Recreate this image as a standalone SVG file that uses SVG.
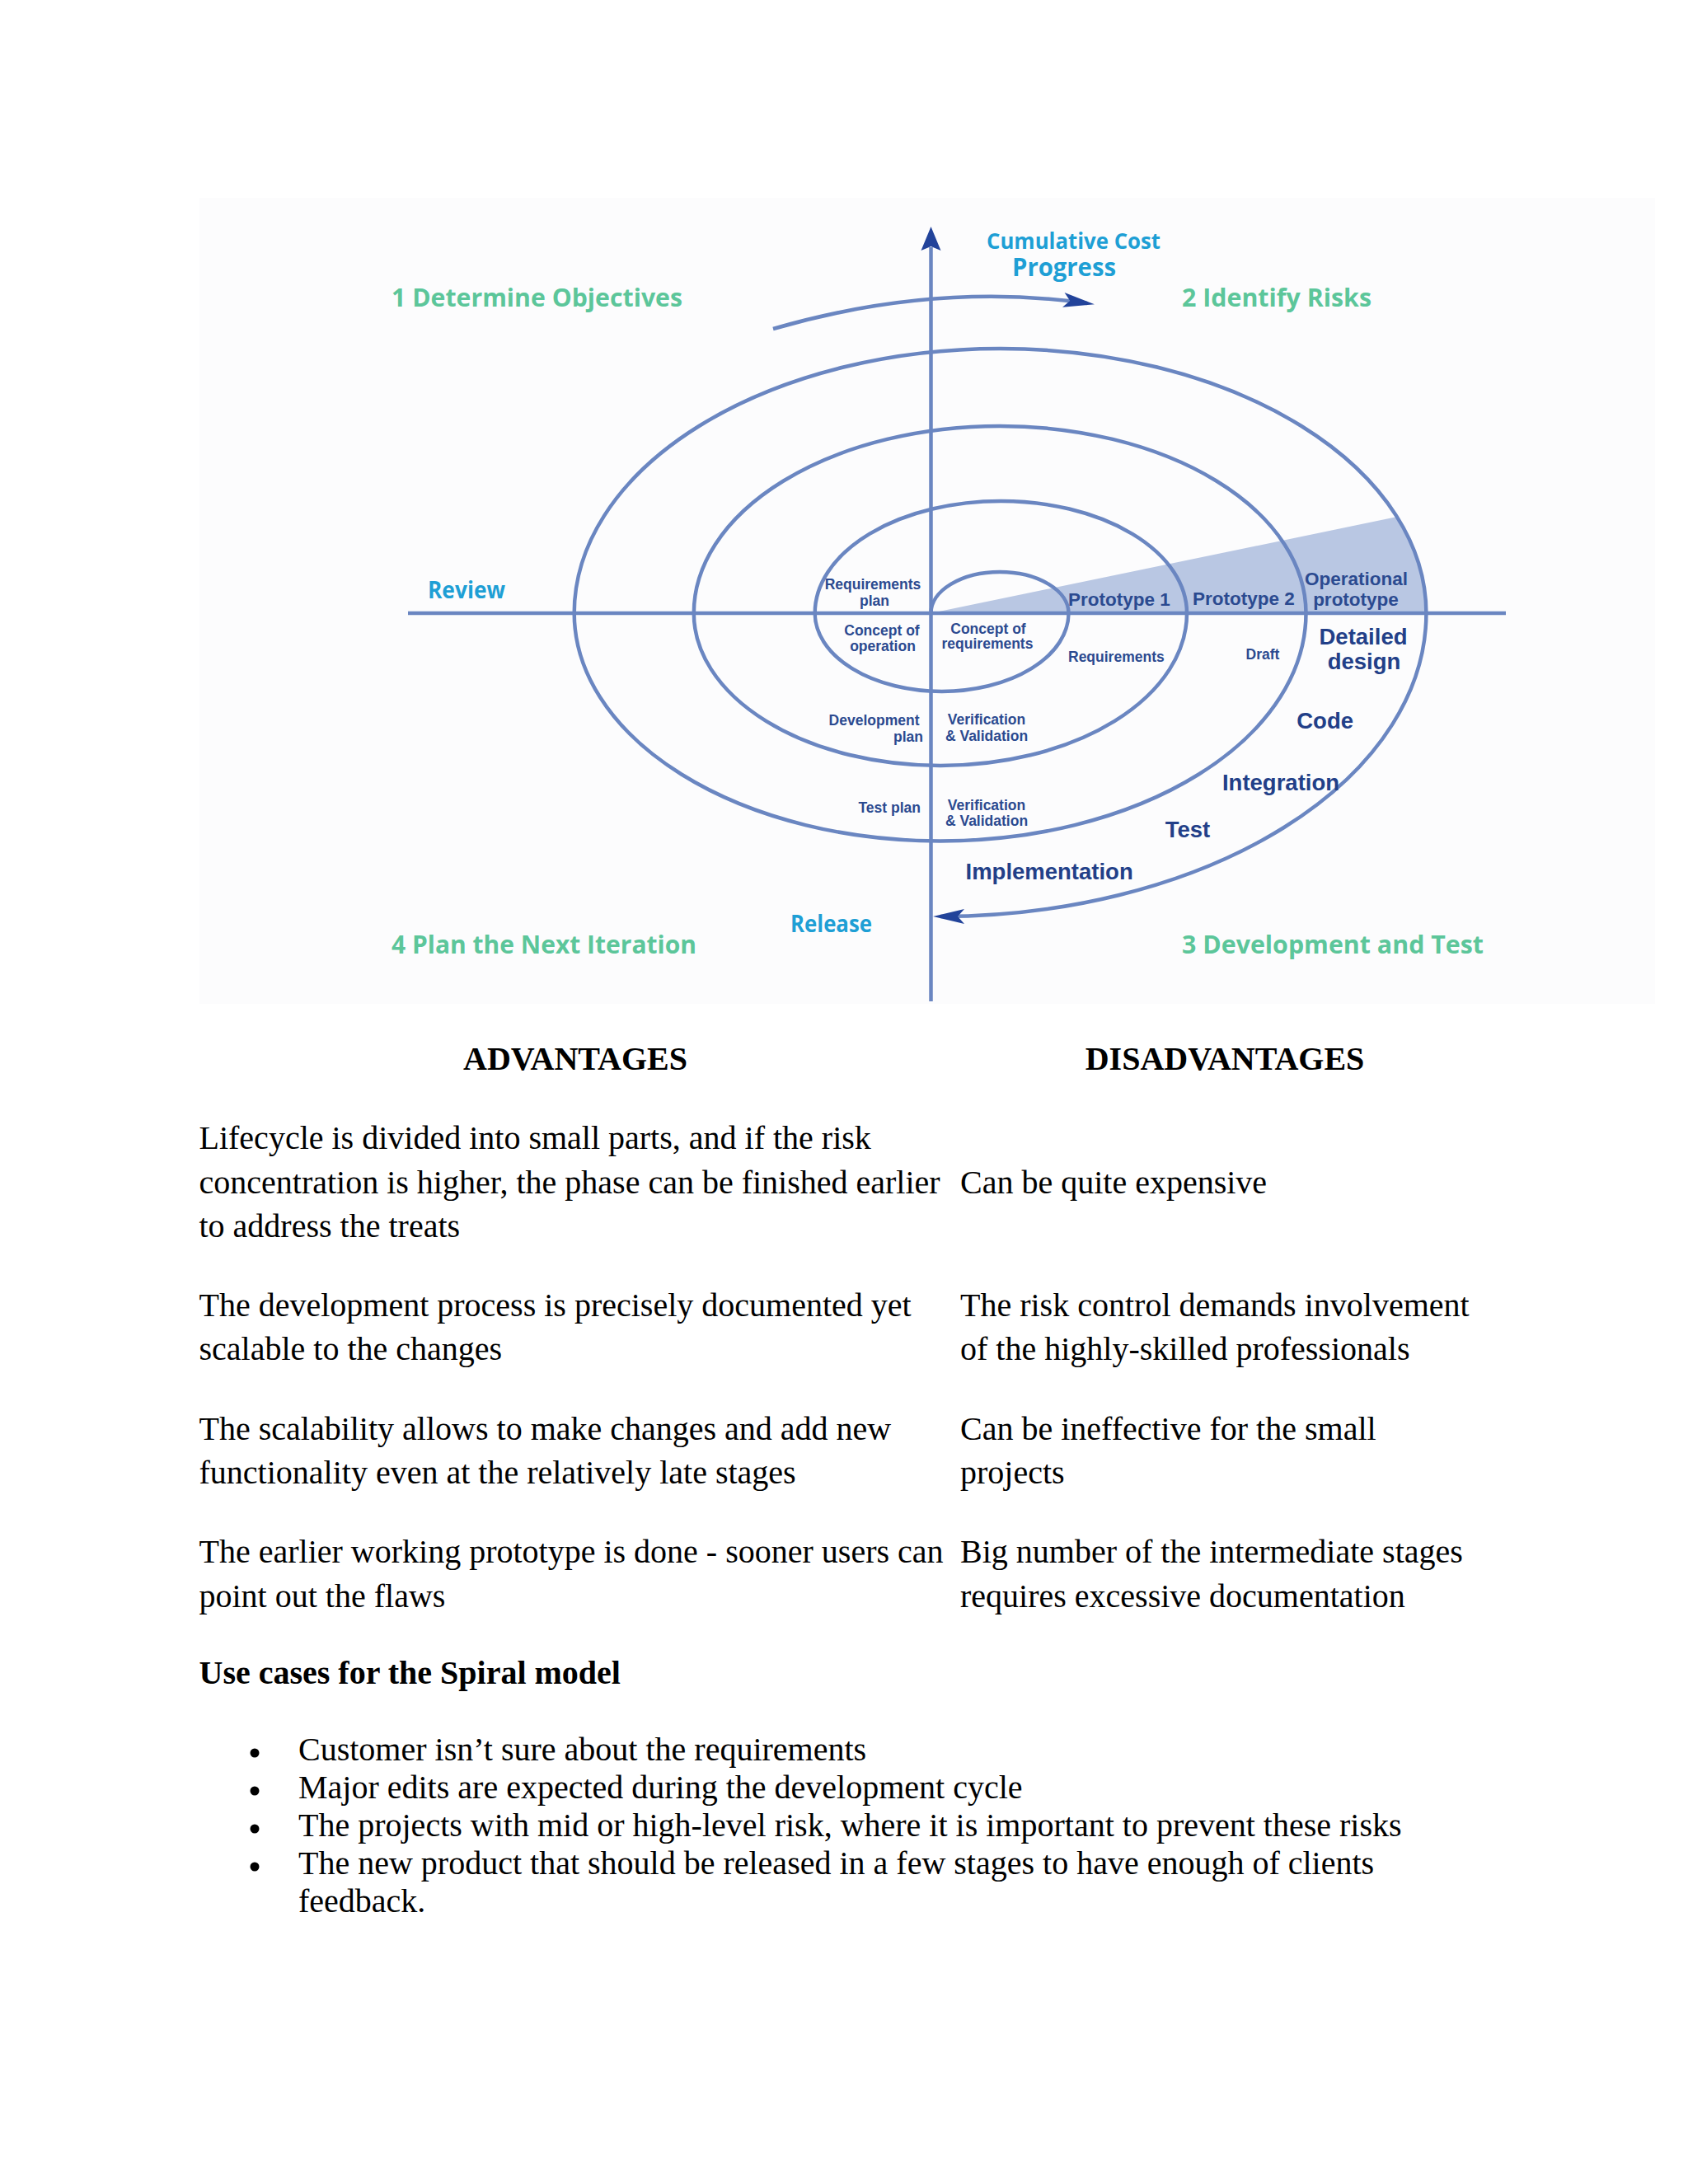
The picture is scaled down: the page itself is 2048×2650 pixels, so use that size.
<svg xmlns="http://www.w3.org/2000/svg" width="2048" height="2650" viewBox="0 0 2048 2650">
<defs>
<style>
.ln{fill:none;stroke:#6a86c1;stroke-width:4.5}
.ah{fill:#22439a}
.sf{font-family:"Liberation Sans",Arial,sans-serif;font-weight:bold;fill:#2b4a90}
.s{font-size:17.5px}
.m{font-size:22.5px}
.l{font-size:27.5px;fill:#223f88}
.g{font-family:"Open Sans",sans-serif;font-weight:bold;fill:#5cc69a;font-size:30px}
.c{font-family:"Open Sans",sans-serif;font-weight:bold;fill:#1e9fd5}
.b{font-family:"Liberation Serif","Times New Roman",serif;font-size:40px;fill:#000}
.bb{font-weight:bold}
.dot{fill:#000}
</style>
<marker id="arr" markerUnits="userSpaceOnUse" markerWidth="40" markerHeight="20" viewBox="0 0 40 20" refX="29" refY="9" orient="auto"><path d="M0,0 L38,9 L0,18 L8,9 Z" class="ah"/></marker>
</defs>
<rect x="0" y="0" width="2048" height="2650" fill="#fff"/>
<rect x="242" y="240" width="1766" height="978" fill="#fcfcfd"/>
<g id="wedge"><path d="M1129.5,744 L1695,627 A516.85,321 0 0,1 1730.4,744 Z" fill="#b9c7e3"/></g>
<g id="connectors">
<line class="ln" x1="495" y1="744" x2="1827" y2="744"/>
<line class="ln" x1="1129.5" y1="300" x2="1129.5" y2="1215"/>
<polygon class="ah" points="1129.5,275 1141.5,304 1129.5,299 1117.5,304"/>
<path class="ln" d="M1129.5,744 A83.5,50 0 0,1 1296.5,744 A153.9,95 0 0,1 988.7,744 A225.65,136 0 0,1 1440,744 A299.1,185 0 0,1 841.8,744 A371.35,227 0 0,1 1584.5,744 A443.9,276.6 0 0,1 696.7,744 A516.85,321 0 0,1 1730.4,744 A590.4,368 0 0,1 1141,1112" marker-end="url(#arr)"/>
<path class="ln" d="M938,399 Q1135,342 1319,368" marker-end="url(#arr)"/>
</g>
<g id="quadrants">
<text class="g" x="475" y="372" textLength="353" lengthAdjust="spacingAndGlyphs">1 Determine Objectives</text>
<text class="g" x="1434" y="372" textLength="230" lengthAdjust="spacingAndGlyphs">2 Identify Risks</text>
<text class="g" x="475" y="1157" textLength="370" lengthAdjust="spacingAndGlyphs">4 Plan the Next Iteration</text>
<text class="g" x="1434" y="1157" textLength="366" lengthAdjust="spacingAndGlyphs">3 Development and Test</text>
</g>
<g id="axis-labels">
<text class="c" x="1197" y="302" font-size="26" textLength="211" lengthAdjust="spacingAndGlyphs">Cumulative Cost</text>
<text class="c" x="1228" y="335" font-size="31" textLength="126" lengthAdjust="spacingAndGlyphs">Progress</text>
<text class="c" x="519" y="726" font-size="28" textLength="94" lengthAdjust="spacingAndGlyphs">Review</text>
<text class="c" x="959" y="1131" font-size="28" textLength="99" lengthAdjust="spacingAndGlyphs">Release</text>
</g>
<g id="spiral-labels" class="sf">
<text class="s" text-anchor="middle" x="1059" y="715">Requirements</text>
<text class="s" text-anchor="middle" x="1061" y="735">plan</text>
<text class="s" text-anchor="middle" x="1070" y="770.5">Concept of</text>
<text class="s" text-anchor="middle" x="1071" y="790">operation</text>
<text class="s" text-anchor="middle" x="1199" y="768.5">Concept of</text>
<text class="s" text-anchor="middle" x="1198" y="787">requirements</text>
<text class="s" text-anchor="end" x="1115.5" y="880">Development</text>
<text class="s" text-anchor="end" x="1120" y="900">plan</text>
<text class="s" text-anchor="middle" x="1197" y="879">Verification</text>
<text class="s" text-anchor="middle" x="1197" y="899">&amp; Validation</text>
<text class="s" text-anchor="end" x="1117" y="985.5">Test plan</text>
<text class="s" text-anchor="middle" x="1197" y="983">Verification</text>
<text class="s" text-anchor="middle" x="1197" y="1001.5">&amp; Validation</text>
<text class="s" x="1296" y="803">Requirements</text>
<text class="s" text-anchor="middle" x="1532" y="799.6">Draft</text>
<text class="m" x="1296" y="735">Prototype 1</text>
<text class="m" x="1447" y="733.5">Prototype 2</text>
<text class="m" text-anchor="middle" x="1645.5" y="709.5" font-size="21.5">Operational</text>
<text class="m" text-anchor="middle" x="1645" y="735" font-size="21.5">prototype</text>
<text class="l" text-anchor="middle" x="1654" y="782" font-size="27">Detailed</text>
<text class="l" text-anchor="middle" x="1655" y="812" font-size="27">design</text>
<text class="l" text-anchor="middle" x="1607.6" y="883.6">Code</text>
<text class="l" text-anchor="middle" x="1554" y="959">Integration</text>
<text class="l" text-anchor="middle" x="1441" y="1016" font-size="26.5">Test</text>
<text class="l" x="1171.5" y="1067">Implementation</text>
</g>
<g id="table" class="b">
<text class="bb" text-anchor="middle" x="698" y="1298">ADVANTAGES</text>
<text class="bb" text-anchor="middle" x="1486" y="1298">DISADVANTAGES</text>
<text x="241.5" y="1394">Lifecycle is divided into small parts, and if the risk</text>
<text x="241.5" y="1447.6">concentration is higher, the phase can be finished earlier</text>
<text x="241.5" y="1501">to address the treats</text>
<text x="1165" y="1447.6">Can be quite expensive</text>
<text x="241.5" y="1597">The development process is precisely documented yet</text>
<text x="241.5" y="1650">scalable to the changes</text>
<text x="1165" y="1597">The risk control demands involvement</text>
<text x="1165" y="1650">of the highly-skilled professionals</text>
<text x="241.5" y="1746.7">The scalability allows to make changes and add new</text>
<text x="241.5" y="1800">functionality even at the relatively late stages</text>
<text x="1165" y="1746.7">Can be ineffective for the small</text>
<text x="1165" y="1800">projects</text>
<text x="241.5" y="1896">The earlier working prototype is done - sooner users can</text>
<text x="241.5" y="1950">point out the flaws</text>
<text x="1165" y="1896">Big number of the intermediate stages</text>
<text x="1165" y="1950">requires excessive documentation</text>
</g>
<g id="use-cases" class="b">
<text class="bb" x="241.5" y="2043">Use cases for the Spiral model</text>
<circle class="dot" cx="309" cy="2127" r="5.5"/>
<text x="362" y="2136">Customer isn’t sure about the requirements</text>
<circle class="dot" cx="309" cy="2173" r="5.5"/>
<text x="362" y="2182">Major edits are expected during the development cycle</text>
<circle class="dot" cx="309" cy="2219" r="5.5"/>
<text x="362" y="2228">The projects with mid or high-level risk, where it is important to prevent these risks</text>
<circle class="dot" cx="309" cy="2265" r="5.5"/>
<text x="362" y="2274">The new product that should be released in a few stages to have enough of clients</text>
<text x="362" y="2320">feedback.</text>
</g>
</svg>
